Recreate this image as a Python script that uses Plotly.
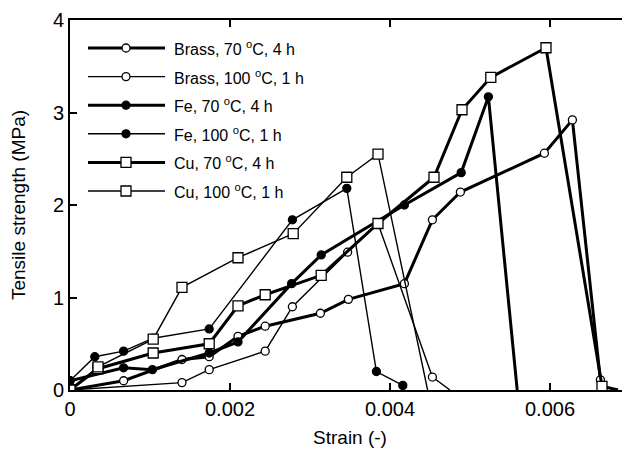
import plotly.graph_objects as go

# ---- data (strain in -, tensile strength in MPa) ----
brass70_strain = [0, 0.00067, 0.0014, 0.00174, 0.0021, 0.00244, 0.00313, 0.00348, 0.00418, 0.00453, 0.00488, 0.00593, 0.00628, 0.00663]
brass70_stress = [0, 0.10, 0.33, 0.36, 0.58, 0.69, 0.83, 0.98, 1.15, 1.84, 2.14, 2.56, 2.92, 0.11]

brass100_strain = [0, 0.0014, 0.00174, 0.00244, 0.00278, 0.00347, 0.00385, 0.00453, 0.00475]
brass100_stress = [0, 0.08, 0.22, 0.42, 0.90, 1.49, 1.80, 0.14, 0]

fe70_strain = [0, 0.00067, 0.00103, 0.00174, 0.0021, 0.00277, 0.00314, 0.00418, 0.00489, 0.00523, 0.00559]
fe70_stress = [0.10, 0.24, 0.22, 0.40, 0.52, 1.15, 1.46, 2.00, 2.35, 3.17, 0]

fe100_strain = [0, 0.00031, 0.00067, 0.00104, 0.00174, 0.00278, 0.00346, 0.00383, 0.00416]
fe100_stress = [0.10, 0.36, 0.42, 0.56, 0.66, 1.84, 2.18, 0.20, 0.05]

cu70_strain = [0, 0.00035, 0.00104, 0.00174, 0.0021, 0.00244, 0.00314, 0.00385, 0.00455, 0.0049, 0.00526, 0.00595, 0.00665, 0.00685]
cu70_stress = [0, 0.23, 0.40, 0.50, 0.91, 1.03, 1.24, 1.80, 2.30, 3.03, 3.38, 3.70, 0.04, 0]

cu100_strain = [0, 0.00035, 0.00104, 0.0014, 0.0021, 0.00279, 0.00346, 0.00385, 0.00447]
cu100_stress = [0, 0.25, 0.55, 1.11, 1.43, 1.69, 2.30, 2.55, 0]

series_names = ["Brass, 70 <sup>o</sup>C, 4 h", "Brass, 100 <sup>o</sup>C, 1 h",
                "Fe, 70 <sup>o</sup>C, 4 h", "Fe, 100 <sup>o</sup>C, 1 h",
                "Cu, 70 <sup>o</sup>C, 4 h", "Cu, 100 <sup>o</sup>C, 1 h"]

x_tick_vals = [0, 0.002, 0.004, 0.006]
x_tick_text = ["0", "0.002", "0.004", "0.006"]
y_tick_vals = [0, 1, 2, 3, 4]

# ---- styles ----
FONT = "Liberation Sans, Arial, Helvetica, sans-serif"
THICK, THIN = 3.0, 1.4
styles = [
    dict(width=THICK, symbol="circle", fill="white", size=8),
    dict(width=THIN, symbol="circle", fill="white", size=8),
    dict(width=THICK, symbol="circle", fill="black", size=8),
    dict(width=THIN, symbol="circle", fill="black", size=8),
    dict(width=THICK, symbol="square", fill="white", size=10),
    dict(width=THIN, symbol="square", fill="white", size=10),
]
data = [(brass70_strain, brass70_stress), (brass100_strain, brass100_stress),
        (fe70_strain, fe70_stress), (fe100_strain, fe100_stress),
        (cu70_strain, cu70_stress), (cu100_strain, cu100_stress)]

fig = go.Figure()
for name, (xs, ys), st in zip(series_names, data, styles):
    n = len(xs)
    sizes = [0 if (i == n - 1 and ys[i] == 0) else st["size"] for i in range(n)]
    fig.add_trace(go.Scatter(
        x=xs, y=ys, mode="lines+markers", name=name, showlegend=False,
        line=dict(color="black", width=st["width"]),
        marker=dict(symbol=st["symbol"], size=sizes, color=st["fill"], opacity=1,
                    line=dict(color="black", width=1.3)),
        opacity=1,
    ))

# ---- page offset compensation (default 8px body margin) ----
OFF = 8
W, H = 630 - OFF, 454 - OFF
L, R, T, B = 70 - OFF, 630 - OFF, 20 - OFF, 390 - OFF


def pxx(px):
    return (px - OFF - L) / (R - L)


def pxy(py):
    return (B - (py - OFF)) / (B - T)


# ---- manual legend (layout decoration, page-pixel positions) ----
shapes = []
annotations = []
for i, (name, st) in enumerate(zip(series_names, styles)):
    yy = pxy(48 + 28.6 * i)
    shapes.append(dict(type="line", xref="paper", yref="paper",
                       x0=pxx(88), x1=pxx(165), y0=yy, y1=yy,
                       line=dict(color="black", width=st["width"])))
    half = st["size"] / 2
    shapes.append(dict(type="circle" if st["symbol"] == "circle" else "rect",
                       xref="paper", yref="paper",
                       xsizemode="pixel", ysizemode="pixel",
                       xanchor=pxx(126), yanchor=yy,
                       x0=-half, x1=half, y0=-half, y1=half,
                       fillcolor=st["fill"], line=dict(color="black", width=1.3)))
    annotations.append(dict(xref="paper", yref="paper", x=pxx(172), y=yy,
                            xanchor="left", yanchor="middle", showarrow=False,
                            text=name, font=dict(family=FONT, size=16, color="black")))

fig.update_layout(
    width=W, height=H,
    margin=dict(l=L, r=W - R, t=T, b=H - B, autoexpand=False),
    paper_bgcolor="white", plot_bgcolor="white",
    font=dict(family=FONT, size=20, color="black"),
    shapes=shapes, annotations=annotations,
    xaxis=dict(range=[0, 0.007], tickvals=x_tick_vals, ticktext=x_tick_text,
               showline=True, linecolor="black", linewidth=2, mirror="ticks",
               ticks="inside", ticklen=7, tickwidth=1.5, tickcolor="black",
               tickfont=dict(size=20),
               showgrid=False, zeroline=False,
               title=dict(text="Strain (-)", font=dict(size=19), standoff=12)),
    yaxis=dict(range=[0, 4], tickvals=y_tick_vals,
               showline=True, linecolor="black", linewidth=2, mirror="ticks",
               ticks="inside", ticklen=7, tickwidth=1.5, tickcolor="black",
               tickfont=dict(size=20),
               showgrid=False, zeroline=False,
               title=dict(text="Tensile strength (MPa)", font=dict(size=19), standoff=22)),
)

fig.write_html("out.html")
